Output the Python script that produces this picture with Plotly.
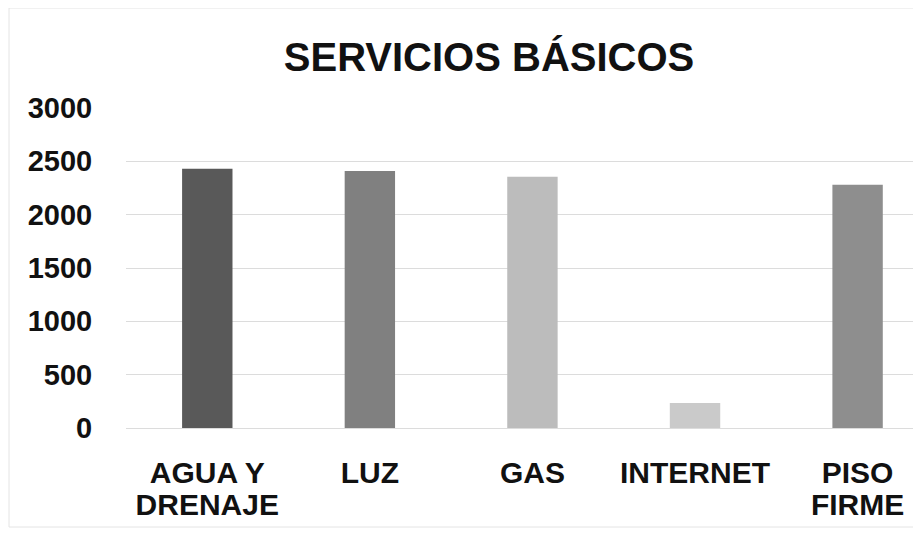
import plotly.graph_objects as go

categories = ["AGUA Y DRENAJE", "LUZ", "GAS", "INTERNET", "PISO FIRME"]
label_line1 = ["AGUA Y", "LUZ", "GAS", "INTERNET", "PISO"]
label_line2 = ["DRENAJE", "", "", "", "FIRME"]
values = [2430, 2410, 2355, 235, 2280]
bar_colors = ["#595959", "#808080", "#bcbcbc", "#cacaca", "#8e8e8e"]
y_ticks = [0, 500, 1000, 1500, 2000, 2500, 3000]

FONT = "Liberation Sans, Arial, sans-serif"
positions = list(range(len(categories)))
W, H = 913, 529
ML, MT, MB = 118, 100, 109
PW, PH = W - ML, H - MT - MB

fig = go.Figure()
fig.add_trace(
    go.Bar(
        x=positions,
        y=values,
        marker=dict(color=bar_colors, line=dict(width=0)),
        width=0.31,
        hovertext=categories,
        showlegend=False,
    )
)
# carrier trace so the second-line label axis is drawn
fig.add_trace(
    go.Scatter(
        x=positions,
        y=[None] * len(positions),
        xaxis="x2",
        mode="markers",
        showlegend=False,
        hoverinfo="skip",
    )
)

fig.update_layout(
    width=W,
    height=H,
    margin=dict(l=ML, r=0, t=MT, b=MB, autoexpand=False),
    paper_bgcolor="white",
    plot_bgcolor="white",
    showlegend=False,
    title=dict(
        text="SERVICIOS BÁSICOS",
        x=481 / W,
        xanchor="center",
        y=1 - 49 / H,
        yanchor="middle",
        font=dict(family=FONT, size=40, color="#111111", weight="bold"),
    ),
    shapes=[
        dict(
            type="rect", xref="paper", yref="paper",
            x0=(1 - ML) / PW, x1=1.05, y0=-(519 - (H - MB)) / PH, y1=1 + MT / PH,
            line=dict(color="#e4e4e4", width=1), layer="below",
        )
    ],
    xaxis=dict(
        tickmode="array",
        tickvals=positions,
        ticktext=label_line1,
        range=[-0.5, 4.39],
        showgrid=False,
        showline=False,
        zeroline=False,
        ticks="outside",
        ticklen=18,
        tickcolor="rgba(0,0,0,0)",
        tickfont=dict(family=FONT, size=30, color="#111111", weight="bold"),
        automargin=False,
        fixedrange=True,
    ),
    xaxis2=dict(
        overlaying="x",
        side="bottom",
        anchor="y",
        range=[-0.5, 4.39],
        tickmode="array",
        tickvals=positions,
        ticktext=label_line2,
        showgrid=False,
        showline=False,
        zeroline=False,
        ticks="outside",
        ticklen=50,
        tickcolor="rgba(0,0,0,0)",
        tickfont=dict(family=FONT, size=30, color="#111111", weight="bold"),
        automargin=False,
        fixedrange=True,
    ),
    yaxis=dict(
        range=[0, 3000],
        tickmode="array",
        tickvals=y_ticks,
        ticktext=[str(v) for v in y_ticks],
        showgrid=True,
        gridcolor="#dcdcdc",
        gridwidth=1,
        zeroline=True,
        zerolinecolor="#dcdcdc",
        zerolinewidth=1,
        showline=False,
        ticks="outside",
        ticklen=27,
        tickcolor="rgba(0,0,0,0)",
        tickfont=dict(family=FONT, size=29, color="#111111", weight="bold"),
        automargin=False,
        fixedrange=True,
    ),
)

fig.write_html("out.html")
